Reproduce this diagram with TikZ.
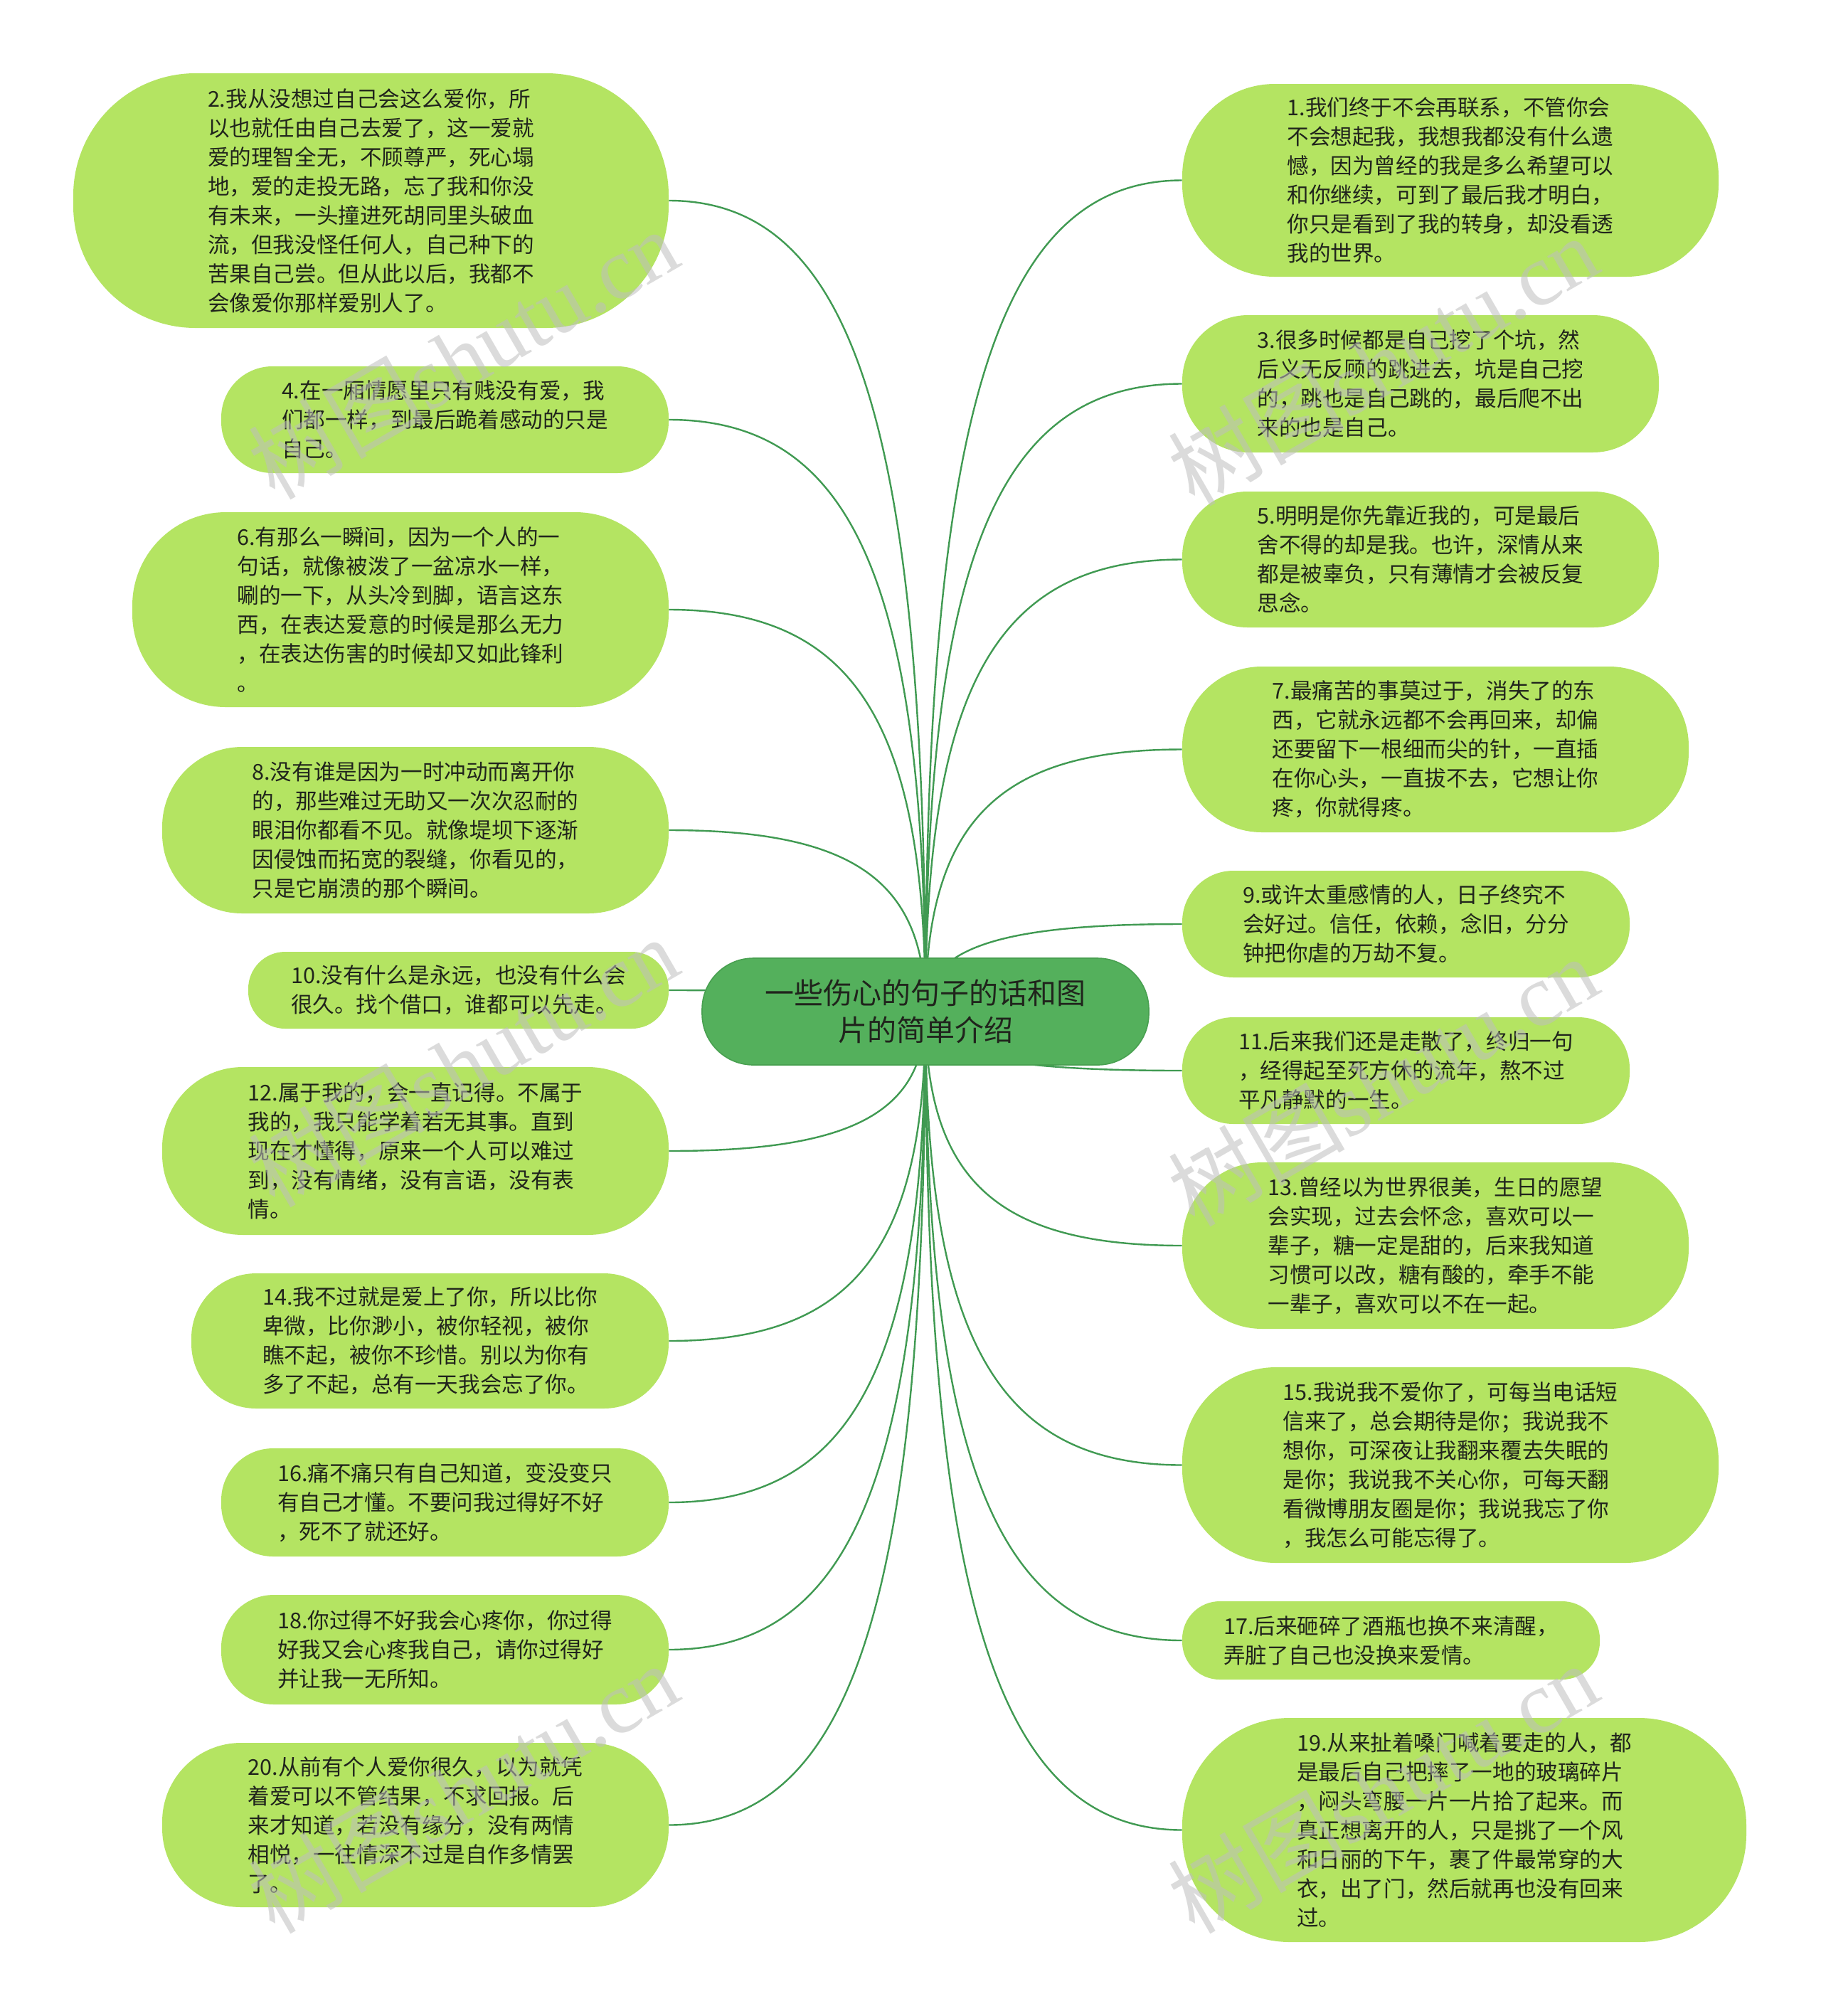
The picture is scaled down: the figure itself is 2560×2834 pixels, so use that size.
\documentclass[tikz,border=0pt]{standalone}
\usepackage{fontspec}
\newfontfamily\cjk{Noto Sans CJK SC}
\newfontfamily\wmserif{Liberation Serif}
\usetikzlibrary{calc}
\pgfdeclarelayer{background}
\pgfdeclarelayer{bottom}
\pgfsetlayers{bottom,background,main}
\definecolor{leaffill}{RGB}{180,228,98}
\definecolor{rootfill}{RGB}{84,176,92}
\definecolor{rootedge}{RGB}{72,160,80}
\definecolor{linkcol}{RGB}{64,154,82}
\definecolor{txt}{RGB}{32,36,28}
\definecolor{wm}{RGB}{190,190,190}
\tikzset{
  leaf/.style={rectangle, fill=leaffill, draw=none, inner sep=0pt, align=left,
    text=txt, font=\cjk\fontsize{15.3}{20.5}\selectfont},
  root/.style={rectangle, fill=rootfill, draw=rootedge, line width=0.8pt, inner sep=0pt,
    align=center, text=txt, font=\cjk\fontsize{20.5}{26}\selectfont},
  link/.style={draw=linkcol, line width=1.2pt},
  wmark/.style={text=wm, opacity=0.55, rotate=30, inner sep=0pt, font=\fontsize{62}{62}\selectfont}
}
\newcommand\leaf[6]{\node[leaf, minimum width=#4*0.5pt, minimum height=#5*0.5pt,
  rounded corners=#5*0.24pt] (#1) at (#2,#3) {#6};}
\newcommand\linkL[1]{\draw[link] (c.center) .. controls ($(c.center)!0.72!(c.center |- #1.east)$)
  and ($(#1.east)!0.72!(c.center |- #1.east)$) .. (#1.east);}
\newcommand\linkR[1]{\draw[link] (c.center) .. controls ($(c.center)!0.72!(c.center |- #1.west)$)
  and ($(#1.west)!0.72!(c.center |- #1.west)$) .. (#1.west);}
\newcommand\wmtext{{\cjk 树图}{\wmserif shutu.cn}}
\begin{document}
\begin{tikzpicture}[x=0.5pt, y=-0.5pt]
\useasboundingbox (0,0) rectangle (2560,2834);
\begin{pgfonlayer}{bottom}
\fill[white] (0,0) rectangle (2560,2834);
\end{pgfonlayer}

\node[root, minimum width=628*0.5pt, minimum height=150*0.5pt, rounded corners=150*0.24pt]
  (c) at (1301,1422) {一些伤心的句子的话和图\\片的简单介绍};

% left column
\leaf{n2}{521.5}{282}{837}{358}{2.我从没想过自己会这么爱你，所\\以也就任由自己去爱了，这一爱就\\爱的理智全无，不顾尊严，死心塌\\地，爱的走投无路，忘了我和你没\\有未来，一头撞进死胡同里头破血\\流，但我没怪任何人，自己种下的\\苦果自己尝。但从此以后，我都不\\会像爱你那样爱别人了。}
\leaf{n4}{625.5}{590}{629}{150}{4.在一厢情愿里只有贱没有爱，我\\们都一样，到最后跪着感动的只是\\自己。}
\leaf{n6}{563}{857}{754}{274}{6.有那么一瞬间，因为一个人的一\\句话，就像被泼了一盆凉水一样，\\唰的一下，从头冷到脚，语言这东\\西，在表达爱意的时候是那么无力\\，在表达伤害的时候却又如此锋利\\。}
\leaf{n8}{584}{1167}{712}{234}{8.没有谁是因为一时冲动而离开你\\的，那些难过无助又一次次忍耐的\\眼泪你都看不见。就像堤坝下逐渐\\因侵蚀而拓宽的裂缝，你看见的，\\只是它崩溃的那个瞬间。}
\leaf{n10}{644.5}{1392}{591}{108}{10.没有什么是永远，也没有什么会\\很久。找个借口，谁都可以先走。}
\leaf{n12}{584}{1618}{712}{236}{12.属于我的，会一直记得。不属于\\我的，我只能学着若无其事。直到\\现在才懂得，原来一个人可以难过\\到，没有情绪，没有言语，没有表\\情。}
\leaf{n14}{604.5}{1885}{671}{190}{14.我不过就是爱上了你，所以比你\\卑微，比你渺小，被你轻视，被你\\瞧不起，被你不珍惜。别以为你有\\多了不起，总有一天我会忘了你。}
\leaf{n16}{625.5}{2112}{629}{152}{16.痛不痛只有自己知道，变没变只\\有自己才懂。不要问我过得好不好\\，死不了就还好。}
\leaf{n18}{625.5}{2319}{629}{154}{18.你过得不好我会心疼你，你过得\\好我又会心疼我自己，请你过得好\\并让我一无所知。}
\leaf{n20}{584}{2565.5}{712}{231}{20.从前有个人爱你很久，以为就凭\\着爱可以不管结果，不求回报。后\\来才知道，若没有缘分，没有两情\\相悦，一往情深不过是自作多情罢\\了。}

% right column
\leaf{n1}{2039}{253.5}{754}{271}{1.我们终于不会再联系，不管你会\\不会想起我，我想我都没有什么遗\\憾，因为曾经的我是多么希望可以\\和你继续，可到了最后我才明白，\\你只是看到了我的转身，却没看透\\我的世界。}
\leaf{n3}{1997}{539.5}{670}{193}{3.很多时候都是自己挖了个坑，然\\后义无反顾的跳进去，坑是自己挖\\的，跳也是自己跳的，最后爬不出\\来的也是自己。}
\leaf{n5}{1997}{786.5}{670}{191}{5.明明是你先靠近我的，可是最后\\舍不得的却是我。也许，深情从来\\都是被辜负，只有薄情才会被反复\\思念。}
\leaf{n7}{2018}{1053.5}{712}{233}{7.最痛苦的事莫过于，消失了的东\\西，它就永远都不会再回来，却偏\\还要留下一根细而尖的针，一直插\\在你心头，一直拔不去，它想让你\\疼，你就得疼。}
\leaf{n9}{1976.5}{1299}{629}{150}{9.或许太重感情的人，日子终究不\\会好过。信任，依赖，念旧，分分\\钟把你虐的万劫不复。}
\leaf{n11}{1976.5}{1505}{629}{150}{11.后来我们还是走散了，终归一句\\，经得起至死方休的流年，熬不过\\平凡静默的一生。}
\leaf{n13}{2018}{1751}{712}{234}{13.曾经以为世界很美，生日的愿望\\会实现，过去会怀念，喜欢可以一\\辈子，糖一定是甜的，后来我知道\\习惯可以改，糖有酸的，牵手不能\\一辈子，喜欢可以不在一起。}
\leaf{n15}{2039}{2059.5}{754}{275}{15.我说我不爱你了，可每当电话短\\信来了，总会期待是你；我说我不\\想你，可深夜让我翻来覆去失眠的\\是你；我说我不关心你，可每天翻\\看微博朋友圈是你；我说我忘了你\\，我怎么可能忘得了。}
\leaf{n17}{1955.5}{2306}{587}{110}{17.后来砸碎了酒瓶也换不来清醒，\\弄脏了自己也没换来爱情。}
\leaf{n19}{2058.5}{2572.5}{793}{315}{19.从来扯着嗓门喊着要走的人，都\\是最后自己把摔了一地的玻璃碎片\\，闷头弯腰一片一片拾了起来。而\\真正想离开的人，只是挑了一个风\\和日丽的下午，裹了件最常穿的大\\衣，出了门，然后就再也没有回来\\过。}

\begin{pgfonlayer}{background}
\linkL{n2}\linkL{n4}\linkL{n6}\linkL{n8}\linkL{n10}
\linkL{n12}\linkL{n14}\linkL{n16}\linkL{n18}\linkL{n20}
\linkR{n1}\linkR{n3}\linkR{n5}\linkR{n7}\linkR{n9}
\linkR{n11}\linkR{n13}\linkR{n15}\linkR{n17}\linkR{n19}
\end{pgfonlayer}

% watermarks
\node[wmark] (w1) at (651,497) {\wmtext};
\node[wmark] (w2) at (651,1492) {\wmtext};
\node[wmark] (w3) at (651,2513) {\wmtext};
\node[wmark] (w4) at (1944,506) {\wmtext};
\node[wmark] (w5) at (1944,1519) {\wmtext};
\node[wmark] (w6) at (1944,2513) {\wmtext};
\end{tikzpicture}
\end{document}
